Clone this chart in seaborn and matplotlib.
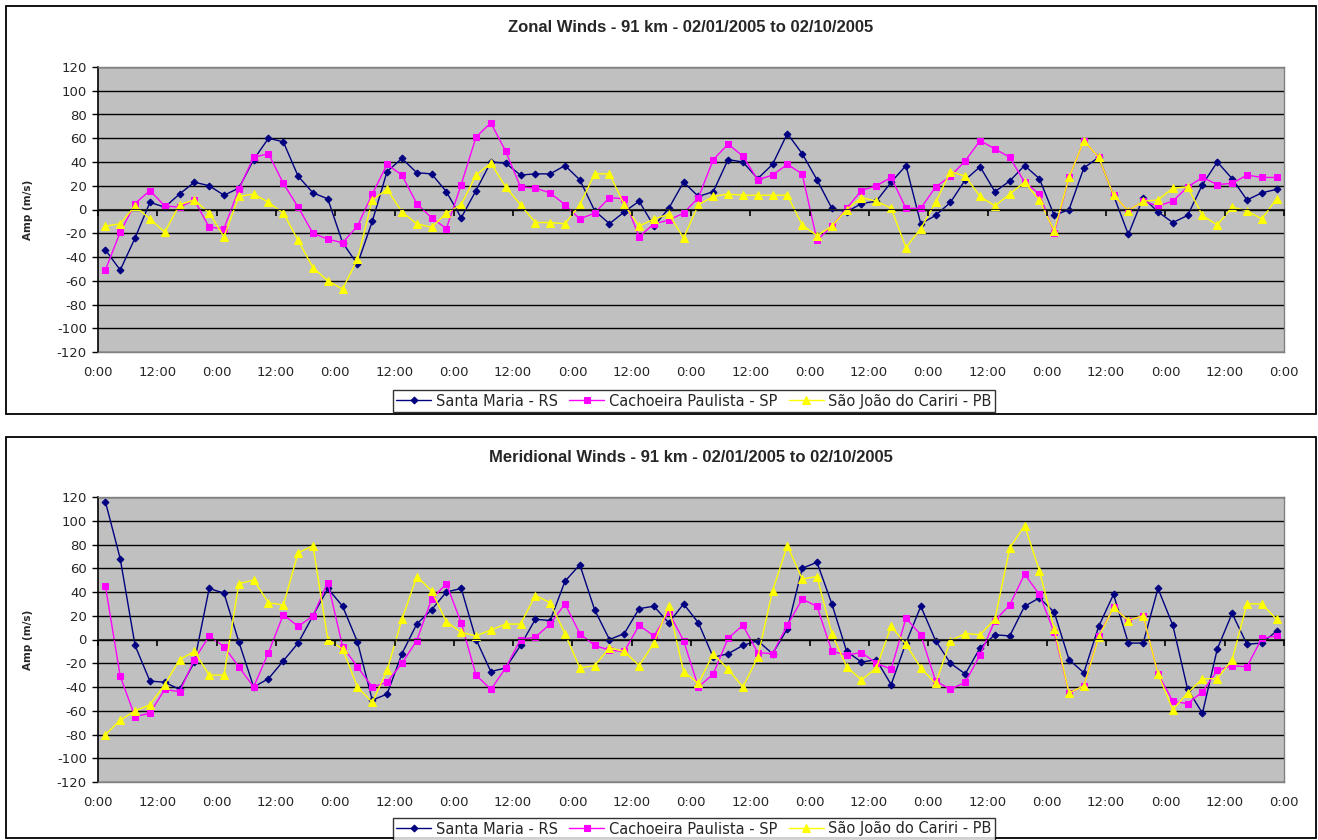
import numpy as np
import pandas as pd
import matplotlib
matplotlib.use("Agg")
import matplotlib.pyplot as plt
from matplotlib.patches import Rectangle
import seaborn as sns

# 3-hourly samples, 02/01/2005 to 02/10/2005 (80 points)
stations = ["Santa Maria - RS", "Cachoeira Paulista - SP", "São João do Cariri - PB"]

zonal_sm = [-34, -51, -24, 6, 2, 13, 23, 20, 12, 18, 42, 60, 57, 28, 14, 9, -28, -46, -10, 32,
            43, 31, 30, 15, -7, 16, 40, 39, 29, 30, 30, 37, 25, -1, -12, -2, 7, -14, 1, 23,
            11, 15, 42, 40, 26, 38, 64, 47, 25, 1, -2, 5, 7, 23, 37, -12, -5, 6, 25, 36,
            15, 24, 37, 26, -5, 0, 35, 44, 12, -21, 10, -2, -11, -5, 21, 40, 26, 8, 14, 17]
zonal_cp = [-51, -19, 5, 16, 3, 2, 8, -15, -16, 17, 44, 47, 22, 2, -20, -25, -28, -14, 13, 38,
            29, 5, -7, -16, 21, 61, 73, 49, 19, 18, 14, 4, -8, -3, 10, 9, -23, -12, -9, -3,
            10, 42, 55, 45, 25, 29, 38, 30, -26, -14, 1, 16, 20, 27, 1, 1, 19, 28, 41, 58,
            51, 44, 23, 13, -20, 27, 58, 44, 12, -1, 7, 3, 7, 19, 27, 21, 22, 29, 27, 27]
zonal_sj = [-14, -12, 3, -8, -19, 4, 8, -3, -23, 11, 13, 6, -3, -26, -49, -60, -67, -42, 8, 17,
            -2, -12, -15, -3, 4, 29, 39, 19, 4, -11, -11, -12, 4, 30, 30, 4, -14, -8, -4, -24,
            4, 11, 13, 12, 12, 12, 12, -13, -22, -14, 0, 10, 7, 1, -32, -16, 6, 32, 28, 11,
            3, 13, 23, 8, -18, 27, 58, 44, 12, -1, 7, 8, 18, 19, -5, -13, 2, -1, -8, 9]

merid_sm = [116, 68, -5, -35, -36, -42, -19, 43, 39, -2, -40, -33, -18, -3, 20, 43, 28, -2, -51, -46,
            -12, 13, 25, 40, 43, 0, -27, -24, -5, 17, 16, 49, 63, 25, 0, 5, 26, 28, 14, 30,
            14, -15, -12, -5, -1, -12, 9, 60, 65, 30, -10, -19, -17, -38, -3, 28, -1, -20, -29, -7,
            4, 3, 28, 35, 23, -17, -28, 11, 38, -3, -3, 43, 12, -42, -62, -8, 22, -4, -3, 7]
merid_cp = [45, -31, -65, -62, -42, -44, -17, 3, -6, -23, -40, -11, 21, 11, 20, 48, -6, -23, -40, -36,
            -20, -1, 34, 47, 14, -30, -42, -24, 0, 2, 13, 30, 5, -5, -9, -10, 12, 3, 23, -1,
            -40, -29, 1, 12, -11, -12, 12, 34, 28, -10, -13, -11, -20, -25, 18, 4, -35, -42, -36, -13,
            16, 29, 55, 38, 6, -45, -39, 3, 27, 16, 20, -29, -52, -54, -44, -26, -22, -23, 1, 3]
merid_sj = [-80, -68, -60, -55, -38, -17, -10, -30, -30, 47, 50, 31, 29, 73, 79, 0, -8, -40, -53, -26,
            17, 53, 41, 15, 6, 3, 8, 13, 13, 37, 31, 5, -24, -22, -7, -10, -22, -3, 28, -27,
            -37, -12, -25, -40, -15, 41, 79, 51, 53, 5, -23, -34, -24, 11, -4, -24, -37, -1, 5, 4,
            17, 77, 96, 58, 9, -45, -39, 2, 27, 16, 20, -29, -59, -45, -33, -33, -17, 30, 30, 17]

hours = np.arange(80) * 3 + 1.5
tick_hours = list(range(0, 241, 12))
tick_labels = ["0:00" if h % 24 == 0 else "12:00" for h in tick_hours]

colors = ["#000080", "#FF00FF", "#FFFF00"]
markers = ["D", "s", "^"]
msizes = [3.5, 4.5, 5.5]

sns.set_style("white")
plt.rcParams["font.family"] = ["DejaVu Sans"]
plt.rcParams["axes.unicode_minus"] = False

W, H = 1318, 840
fig = plt.figure(figsize=(W / 100, H / 100), dpi=100)

# chart borders
for (x0, y0, x1, y1) in [(6, 6, 1316, 414), (6, 437, 1316, 838)]:
    fig.patches.append(Rectangle((x0 / W, 1 - y1 / H), (x1 - x0) / W, (y1 - y0) / H,
                                 transform=fig.transFigure, fill=False,
                                 edgecolor="black", linewidth=1.3))

panels = [
    ("Zonal Winds - 91 km - 02/01/2005 to 02/10/2005", [zonal_sm, zonal_cp, zonal_sj], 67, 28, 401),
    ("Meridional Winds - 91 km - 02/01/2005 to 02/10/2005", [merid_sm, merid_cp, merid_sj], 497, 458, 829),
]

for title, series, top_px, title_px, legend_px in panels:
    ax = fig.add_axes([98 / W, 1 - (top_px + 285) / H, 1186 / W, 285 / H])
    ax.set_facecolor("#C0C0C0")
    for name, vals, c, m, ms in zip(stations, series, colors, markers, msizes):
        df = pd.DataFrame({"hour": hours, "amp": vals})
        sns.lineplot(data=df, x="hour", y="amp", ax=ax, color=c, marker=m,
                     markersize=ms, markeredgecolor=c, linewidth=1.0, label=name,
                     legend=False)
    ax.set_xlim(0, 240)
    ax.set_ylim(-120, 120)
    ax.set_yticks(range(-120, 121, 20))
    ax.set_xticks(tick_hours)
    ax.set_xticklabels(tick_labels)
    ax.grid(axis="y", color="black", linewidth=1.0)
    ax.grid(axis="x", visible=False)
    ax.set_axisbelow(True)
    ax.tick_params(axis="y", direction="out", length=4, width=1, pad=4, labelsize=9.5, color="black", left=True)
    ax.tick_params(axis="x", length=0, pad=10, labelsize=9.5)
    for s in ["top", "right", "bottom"]:
        ax.spines[s].set_color("#808080")
        ax.spines[s].set_linewidth(1.0)
    ax.spines["left"].set_color("black")
    ax.spines["left"].set_linewidth(1.2)
    ax.set_xlabel("")
    ax.set_ylabel("Amp (m/s)", fontsize=7.5, fontweight="bold")
    ax.yaxis.set_label_coords(-0.055, 0.5)

    # category axis crossing at zero with small tick marks below it
    sec = ax.secondary_xaxis(0.5)
    sec.set_xticks(tick_hours, labels=[""] * len(tick_hours))
    sec.xaxis.set_ticks_position("bottom")
    sec.tick_params(axis="x", direction="out", length=4, width=1.2, color="black",
                    labelbottom=False, labeltop=False)
    sec.spines["bottom"].set_color("black")
    sec.spines["bottom"].set_linewidth(1.0)
    sec.set_zorder(3)

    fig.text(0.5 * (98 + 1284) / W, 1 - title_px / H, title, ha="center", va="center",
             fontsize=12, fontweight="bold", family="Liberation Sans")

    handles, labels = ax.get_legend_handles_labels()
    leg = fig.legend(handles, labels, loc="center", bbox_to_anchor=(694 / W, 1 - legend_px / H),
                     ncol=3, fontsize=10.5, frameon=True, fancybox=False, handlelength=2.4,
                     handletextpad=0.3, columnspacing=0.8, borderpad=0.25)
    leg.get_frame().set_edgecolor("black")
    leg.get_frame().set_linewidth(1.0)

fig.savefig("out.png", dpi=100)
